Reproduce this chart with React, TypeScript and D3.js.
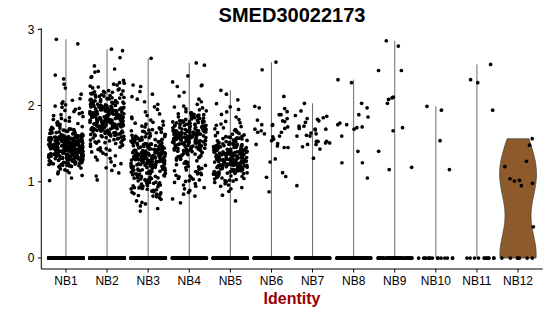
import React from 'react';
import * as d3 from 'd3';

const categories = ['NB1', 'NB2', 'NB3', 'NB4', 'NB5', 'NB6', 'NB7', 'NB8', 'NB9', 'NB10', 'NB11', 'NB12'];
const yTicks = [0, 1, 2, 3];
const title = 'SMED30022173';
const xTitle = 'Identity';

// Dense groups: counts of cells per 0.1-wide expression bin, bins start at 0.6 (0.6, 0.7, ... 2.2)
const binStart = 0.6;
const binWidth = 0.1;
const nb1Bins = [0, 0, 0, 0, 3, 8, 35, 70, 80, 60, 25, 10, 8, 7, 5, 1, 0];
const nb2Bins = [0, 0, 0, 0, 2, 3, 4, 6, 10, 18, 35, 45, 50, 40, 25, 18, 8];
const nb3Bins = [3, 5, 12, 18, 20, 30, 45, 55, 40, 25, 15, 8, 5, 3, 3, 3, 1];
const nb4Bins = [0, 2, 4, 6, 10, 10, 10, 15, 30, 40, 40, 30, 18, 8, 3, 2, 1];
const nb5Bins = [0, 1, 2, 6, 15, 30, 45, 45, 35, 20, 10, 6, 3, 3, 2, 1, 0];

// Individual high values (outliers) of the dense groups
const nb1High = [2.87, 2.81, 2.4, 2.35, 2.28, 2.23];
const nb2High = [2.74, 2.72, 2.63, 2.52, 2.48, 2.45, 2.44, 2.38, 2.37, 2.33, 2.3];
const nb3High = [2.62, 2.27];
const nb4High = [2.56, 2.53, 2.39, 2.31, 2.27, 2.26];
const nb5High = [2.2];

// Sparse groups: individual non-zero values
const nb6Values = [2.57, 2.47, 2.12, 1.97, 1.92, 1.88, 1.88, 1.99, 1.96, 1.83, 1.8, 1.75, 1.72, 1.75, 1.7, 1.65, 1.69,
  1.81, 1.79, 1.74, 1.67, 1.65, 1.63, 1.6, 1.59, 1.56, 1.5, 1.47, 1.49, 1.45, 1.45, 1.54, 1.26, 1.07, 1.06, 1.12, 0.87, 1.3];
const nb7Values = [2.03, 1.93, 1.87, 1.86, 1.84, 1.83, 1.82, 1.8, 1.78, 1.73, 1.68, 1.73, 1.7, 1.69, 1.69, 1.63, 1.64,
  1.6, 1.6, 1.61, 1.49, 1.53, 1.51, 1.53, 1.53, 1.49, 1.51, 1.46, 1.43, 1.31, 0.95];
const nb8Values = [2.34, 2.3, 1.97, 1.85, 1.75, 1.72, 1.77, 2.03, 1.88, 1.75, 1.71, 1.69, 1.6, 1.4, 1.25, 1.25, 1.05];
const nb9Values = [2.85, 2.78, 2.46, 2.46, 2.11, 2.1, 2.08, 2.03, 1.67, 1.71, 1.4, 1.19, 1.16];
const nb10Values = [1.99, 1.94, 1.54, 1.16];
const nb11Values = [2.54, 2.34, 2.3, 1.94];
const nb12Values = [1.566, 1.48, 1.27, 1.2, 1.04, 1.02, 0.95, 0.98, 1.01, 0.41];

// Number of cells with zero expression per group
const zeroCounts = [500, 500, 500, 400, 400, 300, 250, 200, 80, 15, 12, 7];

const binsToValues = (bins: number[]) => {
  const out: number[] = [];
  bins.forEach((n, i) => {
    const lo = binStart + i * binWidth;
    for (let k = 0; k < n; k++) out.push(lo + ((k + 0.5) / n) * binWidth);
  });
  return out;
};

const nonZero: number[][] = [
  [...binsToValues(nb1Bins), ...nb1High],
  [...binsToValues(nb2Bins), ...nb2High],
  [...binsToValues(nb3Bins), ...nb3High],
  [...binsToValues(nb4Bins), ...nb4High],
  [...binsToValues(nb5Bins), ...nb5High],
  nb6Values, nb7Values, nb8Values, nb9Values, nb10Values, nb11Values, nb12Values,
];

const groups = categories.map((c, g) => ({
  name: c,
  values: [...new Array(zeroCounts[g]).fill(0), ...nonZero[g]],
}));

// deterministic hash in [0,1) used for horizontal jitter only
const hash = (a: number) => {
  let n = a | 0;
  n = (n ^ 61) ^ (n >>> 16);
  n = n + (n << 3);
  n = n ^ (n >>> 4);
  n = Math.imul(n, 0x27d4eb2d);
  n = n ^ (n >>> 15);
  return (n >>> 0) / 4294967296;
};

const W = 550;
const H = 316;
const panel = { left: 41.3, right: 542.7, top: 28.3, bottom: 269 };
const font = '"Liberation Sans", Arial, Helvetica, sans-serif';

export default function App() {
  const allMax = d3.max(groups, (g) => d3.max(g.values) as number) as number;
  const pad = allMax * 0.05;
  const y = d3.scaleLinear().domain([-pad, allMax + pad]).range([panel.bottom, panel.top]);
  const x = d3.scalePoint<string>().domain(categories).range([panel.left, panel.right]).padding(0.6);
  const step = x.step();
  const jitterW = 0.42 * step;

  // NB12 violin (gaussian KDE, trimmed, scaled to width)
  const g12 = groups[11].values;
  const bw = 0.35;
  const lo = d3.min(g12) as number;
  const hi = d3.max(g12) as number;
  const grid = d3.range(0, 129).map((i) => lo + ((hi - lo) * i) / 128);
  const dens = grid.map((v) => ({ v, d: d3.sum(g12, (s) => Math.exp(-0.5 * ((v - s) / bw) ** 2)) }));
  const dMax = d3.max(dens, (d) => d.d) as number;
  const cx12 = x('NB12') as number;
  const halfW = 0.45 * step;
  const area = d3
    .area<{ v: number; d: number }>()
    .y((d) => y(d.v))
    .x0((d) => cx12 - (d.d / dMax) * halfW)
    .x1((d) => cx12 + (d.d / dMax) * halfW);

  const pts: { cx: number; cy: number; key: string }[] = [];
  groups.forEach((grp, gi) => {
    const cx = x(grp.name) as number;
    grp.values.forEach((v, i) => {
      const f = hash(gi * 100003 + i * 7919 + 17);
      pts.push({ cx: cx + (f - 0.5) * 2 * jitterW, cy: y(v), key: `${gi}-${i}` });
    });
  });

  return (
    <svg width={W} height={H} style={{ position: 'absolute', left: 0, top: 0, background: '#fff' }}>
      <rect width={W} height={H} fill="#fff" />
      {groups.slice(0, 11).map((grp) => (
        <line
          key={grp.name}
          x1={x(grp.name)}
          x2={x(grp.name)}
          y1={y(0)}
          y2={y(d3.max(grp.values) as number)}
          stroke="#6a6a6a"
          strokeWidth={1}
        />
      ))}
      <path d={area(dens) as string} fill="#8C5A2B" stroke="#333" strokeWidth={0.6} />
      {pts.map((p) => (
        <circle key={p.key} cx={p.cx} cy={p.cy} r={1.85} fill="#000" />
      ))}
      {/* axes */}
      <line x1={panel.left} x2={panel.left} y1={panel.top} y2={panel.bottom} stroke="#000" strokeWidth={1} />
      <line x1={panel.left} x2={panel.right} y1={panel.bottom} y2={panel.bottom} stroke="#000" strokeWidth={1} />
      {yTicks.map((t) => (
        <g key={t}>
          <line x1={panel.left - 3.5} x2={panel.left} y1={y(t)} y2={y(t)} stroke="#000" />
          <text x={34.5} y={y(t) + 4.3} textAnchor="end" fontSize={12} fontFamily={font} fill="#000">
            {t}
          </text>
        </g>
      ))}
      {categories.map((c) => (
        <g key={c}>
          <line x1={x(c)} x2={x(c)} y1={panel.bottom} y2={panel.bottom + 3.5} stroke="#000" />
          <text x={x(c)} y={285.2} textAnchor="middle" fontSize={12} fontFamily={font} fill="#000">
            {c}
          </text>
        </g>
      ))}
      <text
        x={(panel.left + panel.right) / 2}
        y={21.8}
        textAnchor="middle"
        fontSize={20}
        fontWeight="bold"
        fontFamily={font}
        fill="#000"
      >
        {title}
      </text>
      <text
        x={(panel.left + panel.right) / 2}
        y={304}
        textAnchor="middle"
        fontSize={16}
        fontWeight="bold"
        fontFamily={font}
        fill="#990000"
      >
        {xTitle}
      </text>
    </svg>
  );
}
